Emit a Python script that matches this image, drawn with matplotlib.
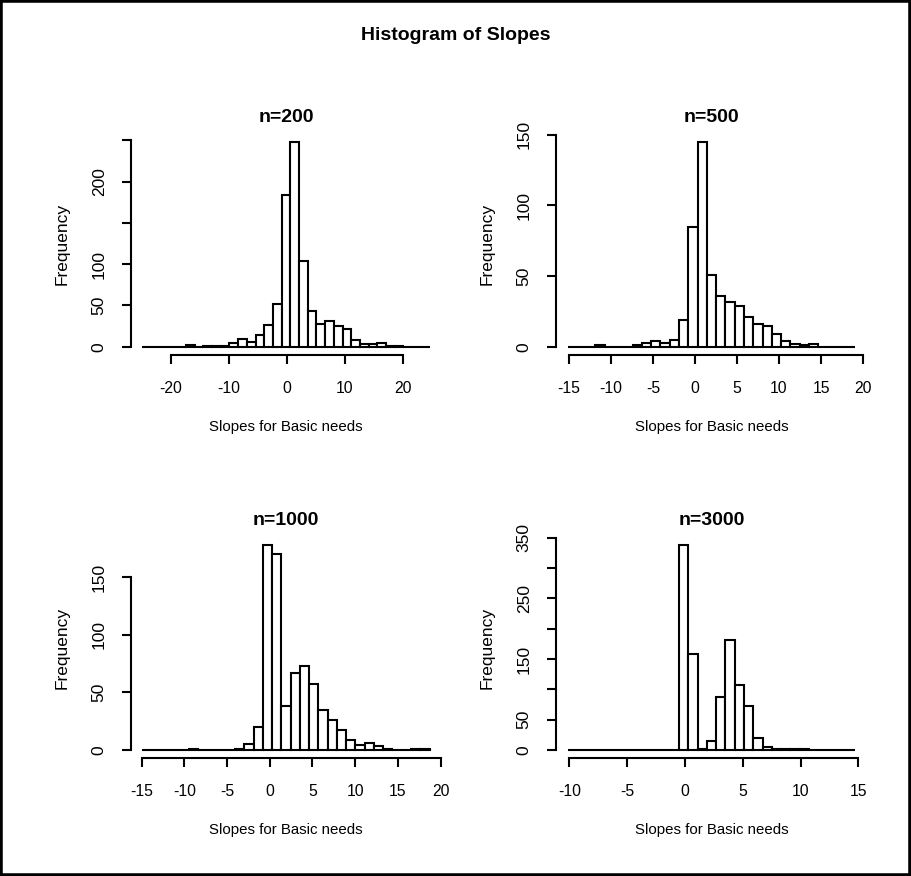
import numpy as np
import matplotlib.pyplot as plt
from matplotlib.patches import Rectangle

plt.rcParams['font.family'] = ['Liberation Sans', 'DejaVu Sans']

# histogram counts (bins left -> right)
titles = ['n=200', 'n=500', 'n=1000', 'n=3000']

counts_200 = [0, 0, 0, 0, 0, 2, 0, 1, 1, 1, 4, 9, 6, 14, 26, 52, 184, 248,
              104, 43, 27, 31, 25, 21, 8, 3, 3, 4, 1, 1, 0, 0, 0]
counts_500 = [0, 0, 0, 1, 0, 0, 0, 1, 3, 4, 3, 5, 19, 85, 145, 51, 36, 32,
              29, 21, 16, 15, 9, 4, 2, 1, 2, 0, 0, 0, 0]
counts_1000 = [0, 0, 0, 0, 0, 1, 0, 0, 0, 0, 1, 5, 20, 178, 170, 38, 67, 73,
               57, 35, 26, 17, 9, 4, 6, 3, 1, 0, 0, 1, 1]
counts_3000 = [0, 0, 0, 0, 0, 0, 0, 0, 0, 0, 0, 0, 338, 158, 2, 15, 87, 181,
               107, 72, 20, 5, 2, 2, 1, 1, 0, 0, 0, 0, 0]

# first and last break of each histogram
break_range = [(-24.86, 24.64), (-15.18, 19.1), (-14.9, 18.7), (-10.16, 14.74)]

x_ticks = [[-20, -10, 0, 10, 20],
           [-15, -10, -5, 0, 5, 10, 15, 20],
           [-15, -10, -5, 0, 5, 10, 15, 20],
           [-10, -5, 0, 5, 10, 15]]
y_ticks = [[0, 50, 100, 150, 200, 250],
           [0, 50, 100, 150],
           [0, 50, 100, 150],
           [0, 50, 100, 150, 200, 250, 300, 350]]
y_labels = [['0', '50', '100', '', '200', ''],
            ['0', '50', '100', '150'],
            ['0', '50', '100', '150'],
            ['0', '50', '', '150', '', '250', '', '350']]

all_counts = [counts_200, counts_500, counts_1000, counts_3000]

W, H = 911, 876
fig = plt.figure(figsize=(W / 100, H / 100), dpi=100)

# plot regions in pixels: (left, top, width, height)
boxes = [(131, 133.7, 310, 221.3), (556, 133.7, 311, 221.3),
         (131, 536.8, 310, 221.3), (556, 536.8, 311, 221.3)]

lw = 1.5
for i in range(4):
    l, t, w, h = boxes[i]
    ax = fig.add_axes([l / W, 1 - (t + h) / H, w / W, h / H])
    c = np.array(all_counts[i])
    lo, hi = break_range[i]
    edges = np.linspace(lo, hi, len(c) + 1)
    ax.bar(edges[:-1], c, width=np.diff(edges), align='edge',
           facecolor='white', edgecolor='black', linewidth=lw)
    rng = hi - lo
    ax.set_xlim(lo - 0.04 * rng, hi + 0.04 * rng)
    ax.set_ylim(-0.04 * c.max(), 1.04 * c.max())

    for s in ['top', 'right']:
        ax.spines[s].set_visible(False)
    for s in ['left', 'bottom']:
        ax.spines[s].set_linewidth(lw)
    ax.spines['bottom'].set_bounds(x_ticks[i][0], x_ticks[i][-1])
    ax.spines['left'].set_bounds(y_ticks[i][0], y_ticks[i][-1])

    ax.set_xticks(x_ticks[i])
    ax.set_xticklabels([str(v) for v in x_ticks[i]])
    ax.set_yticks(y_ticks[i])
    ax.set_yticklabels(y_labels[i], rotation=90, va='center')
    ax.tick_params(direction='out', length=6.5, width=lw, pad=12)
    ax.tick_params(axis='x', labelsize=11.3)
    ax.tick_params(axis='y', labelsize=12.5, pad=11)

    ax.text(0.5, 1 + 16.7 / h, titles[i], transform=ax.transAxes,
            ha='center', va='center', fontsize=14, fontweight='bold')
    ax.text(0.5, -72 / h, 'Slopes for Basic needs', transform=ax.transAxes,
            ha='center', va='center', fontsize=10.8)
    ax.text(-69 / w, 0.5, 'Frequency', transform=ax.transAxes, rotation=90,
            ha='center', va='center', fontsize=12.5)

fig.text(0.5, 1 - 36 / H, 'Histogram of Slopes', ha='center', va='center',
         fontsize=14, fontweight='bold')

fig.patches.append(Rectangle((0, 0), 1, 1, transform=fig.transFigure,
                             fill=False, edgecolor='black', linewidth=4))

fig.savefig('out.png', dpi=100)
